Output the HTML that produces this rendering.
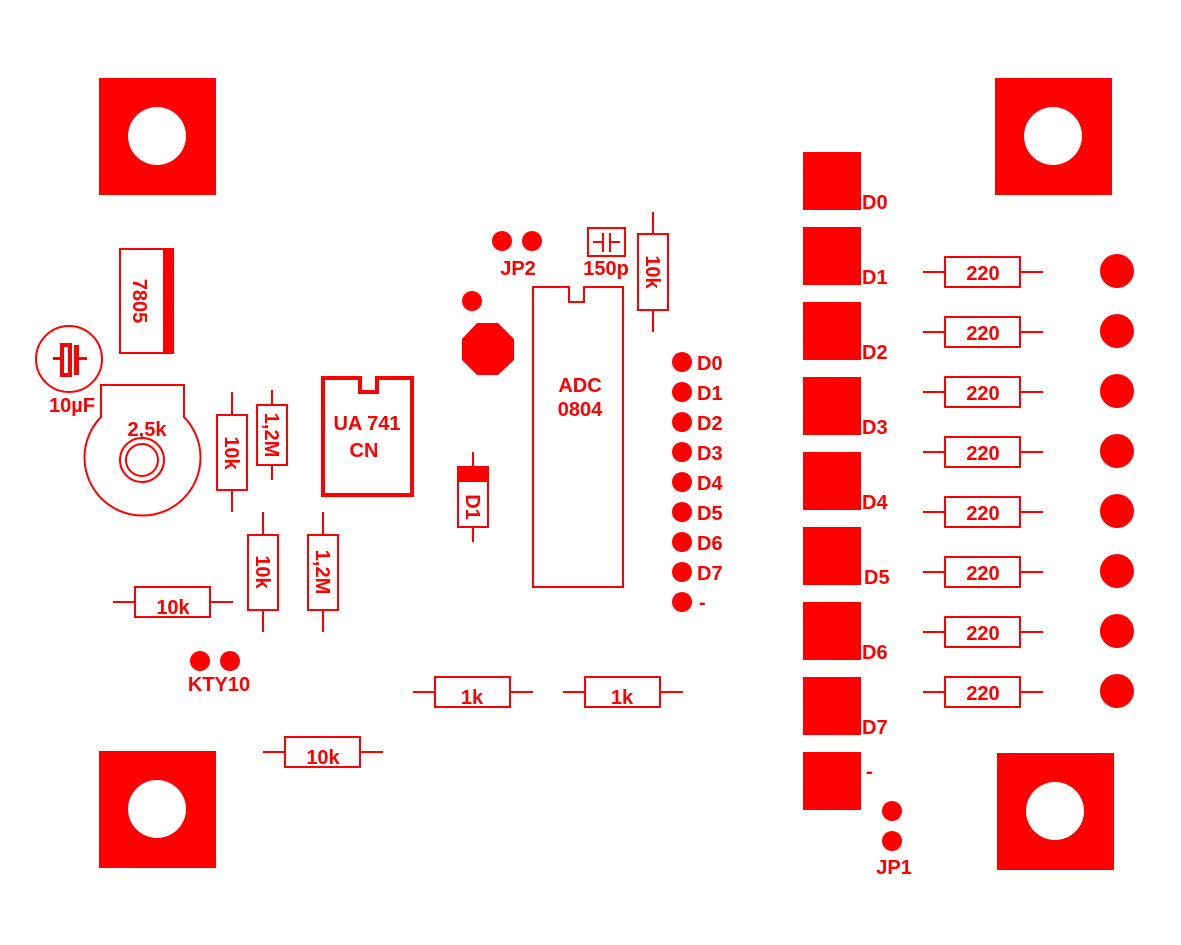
<!DOCTYPE html>
<html><head><meta charset="utf-8"><style>
html,body{margin:0;padding:0;background:#fff;}
svg{display:block;}
text{font-family:"Liberation Sans",sans-serif;font-weight:bold;fill:#f00;}
</style></head><body>
<svg width="1181" height="945" viewBox="0 0 1181 945" xmlns="http://www.w3.org/2000/svg">
<g fill="#f00">
<rect x="99" y="78" width="117" height="117"/>
<rect x="995" y="78" width="117" height="117"/>
<rect x="99" y="751" width="117" height="117"/>
<rect x="997" y="753" width="117" height="117"/>
</g>
<g fill="#fff">
<circle cx="157" cy="136" r="29"/>
<circle cx="1053" cy="136" r="29"/>
<circle cx="157" cy="809" r="29"/>
<circle cx="1055" cy="811" r="29"/>
</g>
<g fill="#f00">
<rect x="803" y="152" width="58" height="58"/>
<rect x="803" y="227" width="58" height="58"/>
<rect x="803" y="302" width="58" height="58"/>
<rect x="803" y="377" width="58" height="58"/>
<rect x="803" y="452" width="58" height="58"/>
<rect x="803" y="527" width="58" height="58"/>
<rect x="803" y="602" width="58" height="58"/>
<rect x="803" y="677" width="58" height="58"/>
<rect x="803" y="752" width="58" height="58"/>
</g>
<g font-size="20">
<text x="862" y="209">D0</text>
<text x="862" y="284">D1</text>
<text x="862" y="359">D2</text>
<text x="862" y="434">D3</text>
<text x="862" y="509">D4</text>
<text x="864" y="584">D5</text>
<text x="862" y="659">D6</text>
<text x="862" y="734">D7</text>
<text x="866" y="778">-</text>
</g>
<g stroke="#f00" stroke-width="2" fill="none">
<g id="r220">
<line x1="923" y1="272" x2="945" y2="272"/><line x1="1020" y1="272" x2="1043" y2="272"/>
<rect x="945" y="257" width="75" height="30"/>
</g>
<use href="#r220" y="60"/><use href="#r220" y="120"/><use href="#r220" y="180"/>
<use href="#r220" y="240"/><use href="#r220" y="300"/><use href="#r220" y="360"/><use href="#r220" y="420"/>
</g>
<g font-size="20" text-anchor="middle">
<text x="983" y="280">220</text><text x="983" y="340">220</text><text x="983" y="400">220</text>
<text x="983" y="460">220</text><text x="983" y="520">220</text><text x="983" y="580">220</text>
<text x="983" y="640">220</text><text x="983" y="700">220</text>
</g>
<g fill="#f00">
<circle cx="1117" cy="271" r="17"/><circle cx="1117" cy="331" r="17"/><circle cx="1117" cy="391" r="17"/>
<circle cx="1117" cy="451" r="17"/><circle cx="1117" cy="511" r="17"/><circle cx="1117" cy="571" r="17"/>
<circle cx="1117" cy="631" r="17"/><circle cx="1117" cy="691" r="17"/>
<circle cx="682" cy="362" r="10"/><circle cx="682" cy="392" r="10"/><circle cx="682" cy="422" r="10"/>
<circle cx="682" cy="452" r="10"/><circle cx="682" cy="482" r="10"/><circle cx="682" cy="512" r="10"/>
<circle cx="682" cy="542" r="10"/><circle cx="682" cy="572" r="10"/><circle cx="682" cy="602" r="10"/>
<circle cx="502" cy="241" r="10"/><circle cx="532" cy="241" r="10"/>
<circle cx="472" cy="301" r="10"/>
<polygon points="477,323 498,323 514,339 514,360 498,375 477,375 462,360 462,339"/>
<circle cx="200" cy="661" r="10"/><circle cx="230" cy="661" r="10"/>
<circle cx="892" cy="811" r="10"/><circle cx="892" cy="841" r="10"/>
</g>
<g font-size="20">
<text x="697" y="370">D0</text><text x="697" y="400">D1</text><text x="697" y="430">D2</text>
<text x="697" y="460">D3</text><text x="697" y="490">D4</text><text x="697" y="520">D5</text>
<text x="697" y="550">D6</text><text x="697" y="580">D7</text><text x="699" y="609">-</text>
</g>
<g font-size="20" text-anchor="middle">
<text x="518" y="275">JP2</text>
<text x="606" y="275">150p</text>
<text x="580" y="392">ADC</text>
<text x="580" y="416">0804</text>
<text x="219" y="691">KTY10</text>
<text x="894" y="874">JP1</text>
<text x="72" y="412">10µF</text>
<text x="147" y="436">2,5k</text>
<text x="367" y="430">UA 741</text>
<text x="364" y="457">CN</text>
<text x="173" y="614">10k</text>
<text x="472" y="704">1k</text>
<text x="622" y="704">1k</text>
<text x="323" y="764">10k</text>
</g>
<g stroke="#f00" stroke-width="2" fill="none">
<path d="M533,287 H569 V302 H584 V287 H623 V587 H533 Z"/>
<rect x="588" y="228" width="37" height="28"/>
<line x1="603" y1="233" x2="603" y2="252"/><line x1="610" y1="233" x2="610" y2="252"/>
<line x1="593" y1="242" x2="603" y2="242"/><line x1="610" y1="242" x2="620" y2="242"/>
<line x1="653" y1="212" x2="653" y2="234"/><line x1="653" y1="310" x2="653" y2="332"/>
<rect x="638" y="234" width="30" height="76"/>
<line x1="473" y1="452" x2="473" y2="467"/><line x1="473" y1="527" x2="473" y2="542"/>
<rect x="458" y="467" width="30" height="60"/>
<rect x="120" y="249" width="53" height="104"/>
<circle cx="69" cy="359" r="33"/>
<path d="M101,417 V385 H184 V417 A58,58 0 1 1 101,417 Z"/>
<circle cx="142" cy="460" r="22"/>
<circle cx="142" cy="460" r="16"/>
<line x1="232" y1="392" x2="232" y2="415"/><line x1="232" y1="490" x2="232" y2="512"/>
<rect x="217" y="415" width="30" height="75"/>
<line x1="272" y1="390" x2="272" y2="405"/><line x1="272" y1="465" x2="272" y2="480"/>
<rect x="257" y="405" width="30" height="60"/>
<line x1="263" y1="512" x2="263" y2="535"/><line x1="263" y1="610" x2="263" y2="632"/>
<rect x="248" y="535" width="30" height="75"/>
<line x1="323" y1="512" x2="323" y2="535"/><line x1="323" y1="610" x2="323" y2="632"/>
<rect x="308" y="535" width="30" height="75"/>
<line x1="113" y1="602" x2="135" y2="602"/><line x1="210" y1="602" x2="233" y2="602"/>
<rect x="135" y="587" width="75" height="30"/>
<line x1="413" y1="692" x2="435" y2="692"/><line x1="510" y1="692" x2="533" y2="692"/>
<rect x="435" y="677" width="75" height="30"/>
<line x1="563" y1="692" x2="585" y2="692"/><line x1="660" y1="692" x2="683" y2="692"/>
<rect x="585" y="677" width="75" height="30"/>
<line x1="263" y1="752" x2="285" y2="752"/><line x1="360" y1="752" x2="383" y2="752"/>
<rect x="285" y="737" width="75" height="30"/>
</g>
<path d="M323,378 H360 V392 H377 V378 H412 V495 H323 Z" stroke="#f00" stroke-width="4" fill="none"/>
<g fill="#f00">
<rect x="163" y="249" width="11" height="105"/>
<rect x="458" y="467" width="31" height="15"/>
<rect x="60" y="343" width="12" height="34"/>
<rect x="74" y="345" width="5" height="30"/>
<rect x="53" y="357" width="7" height="3"/>
<rect x="79" y="357" width="8" height="3"/>
</g>
<rect x="64" y="347" width="4" height="26" fill="#fff"/>
<g font-size="20" text-anchor="middle">
<text transform="translate(140,301) rotate(90)" y="7">7805</text>
<text transform="translate(653,272) rotate(90)" y="7">10k</text>
<text transform="translate(473,507) rotate(90)" y="7">D1</text>
<text transform="translate(232,453) rotate(90)" y="7">10k</text>
<text transform="translate(272,435) rotate(90)" y="7">1,2M</text>
<text transform="translate(263,572) rotate(90)" y="7">10k</text>
<text transform="translate(323,572) rotate(90)" y="7">1,2M</text>
</g>
</svg>
</body></html>
